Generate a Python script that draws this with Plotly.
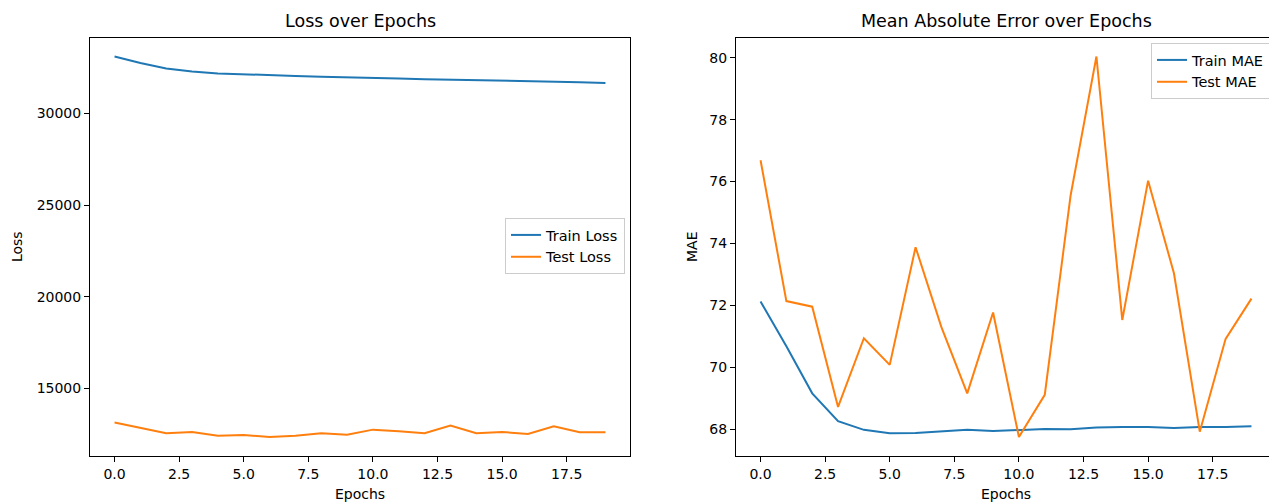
import plotly.graph_objects as go

epochs = list(range(20))
train_loss = [33100, 32750, 32450, 32280, 32180, 32120, 32080, 32040, 32000, 31980,
              31920, 31900, 31860, 31840, 31820, 31780, 31760, 31740, 31700, 31660]
test_loss = [13130, 12835, 12545, 12618, 12418, 12454, 12345, 12418, 12545, 12473,
             12745, 12654, 12545, 12964, 12545, 12618, 12509, 12927, 12600, 12600]
train_mae = [72.13, 70.68, 69.16, 68.26, 67.98, 67.87, 67.88, 67.94, 67.98, 67.94,
             67.98, 68.01, 68.00, 68.06, 68.07, 68.07, 68.04, 68.07, 68.07, 68.10]
test_mae = [76.69, 72.14, 71.96, 68.72, 70.94, 70.08, 73.88, 71.30, 69.16, 71.77,
            67.75, 69.11, 75.55, 80.04, 71.53, 76.03, 73.04, 67.92, 70.92, 72.22]

x_tickvals = [0, 2.5, 5, 7.5, 10, 12.5, 15, 17.5]
x_ticktext = ["0.0", "2.5", "5.0", "7.5", "10.0", "12.5", "15.0", "17.5"]
loss_ticks = [15000, 20000, 25000, 30000]
mae_ticks = [68, 70, 72, 74, 76, 78, 80]

BLUE = "#1f77b4"
ORANGE = "#ff7f0e"
FONT = "DejaVu Sans"


def padded(*series):
    lo = min(min(s) for s in series)
    hi = max(max(s) for s in series)
    span = hi - lo
    return [lo - 0.05 * span, hi + 0.05 * span]


fig = go.Figure()
fig.add_trace(go.Scatter(x=epochs, y=train_loss, mode="lines", name="Train Loss",
                         line=dict(color=BLUE, width=2), xaxis="x", yaxis="y", legend="legend"))
fig.add_trace(go.Scatter(x=epochs, y=test_loss, mode="lines", name="Test Loss",
                         line=dict(color=ORANGE, width=2), xaxis="x", yaxis="y", legend="legend"))
fig.add_trace(go.Scatter(x=epochs, y=train_mae, mode="lines", name="Train MAE",
                         line=dict(color=BLUE, width=2), xaxis="x2", yaxis="y2", legend="legend2"))
fig.add_trace(go.Scatter(x=epochs, y=test_mae, mode="lines", name="Test MAE",
                         line=dict(color=ORANGE, width=2), xaxis="x2", yaxis="y2", legend="legend2"))

# page body has an 8px margin; work in page pixels and shift
OFF = 8
W, H = 1277 - OFF, 504 - OFF


def px(X):
    return (X - OFF) / W


def py(Y):
    return 1 - (Y - OFF) / H


axis_common = dict(showline=True, linecolor="black", linewidth=1, mirror=True,
                   ticks="outside", ticklen=5, tickwidth=1, tickcolor="black",
                   showgrid=False, zeroline=False,
                   tickfont=dict(family=FONT, size=14, color="black"))

xr = [-0.95, 19.95]
L0, L1 = 90, 630
R0, R1 = 736, 1276
TOP, BOT = 37.5, 456

fig.update_layout(
    width=W, height=H,
    margin=dict(l=0, r=0, t=0, b=0),
    paper_bgcolor="white", plot_bgcolor="white",
    font=dict(family=FONT, color="black"),
    xaxis=dict(domain=[px(L0), px(L1)], range=xr, tickvals=x_tickvals, ticktext=x_ticktext,
               anchor="y", title=dict(text="Epochs", font=dict(size=14), standoff=8), **axis_common),
    yaxis=dict(domain=[py(BOT), py(TOP)], range=padded(train_loss, test_loss), tickvals=loss_ticks,
               ticktext=[str(v) for v in loss_ticks], anchor="x",
               title=dict(text="Loss", font=dict(size=14), standoff=10), **axis_common),
    xaxis2=dict(domain=[px(R0), px(R1)], range=xr, tickvals=x_tickvals, ticktext=x_ticktext,
                anchor="y2", title=dict(text="Epochs", font=dict(size=14), standoff=8), **axis_common),
    yaxis2=dict(domain=[py(BOT), py(TOP)], range=padded(train_mae, test_mae), tickvals=mae_ticks,
                ticktext=[str(v) for v in mae_ticks], anchor="x2",
                title=dict(text="MAE", font=dict(size=14), standoff=8), **axis_common),
    legend=dict(x=px(625), y=py(246), xanchor="right", yanchor="middle",
                bgcolor="rgba(255,255,255,0.8)", bordercolor="#cccccc", borderwidth=1,
                itemwidth=30, font=dict(family=FONT, size=14.5, color="black"), tracegroupgap=0),
    legend2=dict(x=px(1270), y=py(43), xanchor="right", yanchor="top",
                 bgcolor="rgba(255,255,255,0.8)", bordercolor="#cccccc", borderwidth=1,
                 itemwidth=30, font=dict(family=FONT, size=14.5, color="black"), tracegroupgap=0),
    annotations=[
        dict(text="Loss over Epochs", x=px((L0 + L1) / 2), y=py(21), xref="paper", yref="paper",
             showarrow=False, font=dict(family=FONT, size=17.5, color="black"),
             xanchor="center", yanchor="middle"),
        dict(text="Mean Absolute Error over Epochs", x=px((R0 + R1) / 2), y=py(21),
             xref="paper", yref="paper", showarrow=False,
             font=dict(family=FONT, size=17.5, color="black"), xanchor="center", yanchor="middle"),
    ],
)

fig.write_html("out.html")
